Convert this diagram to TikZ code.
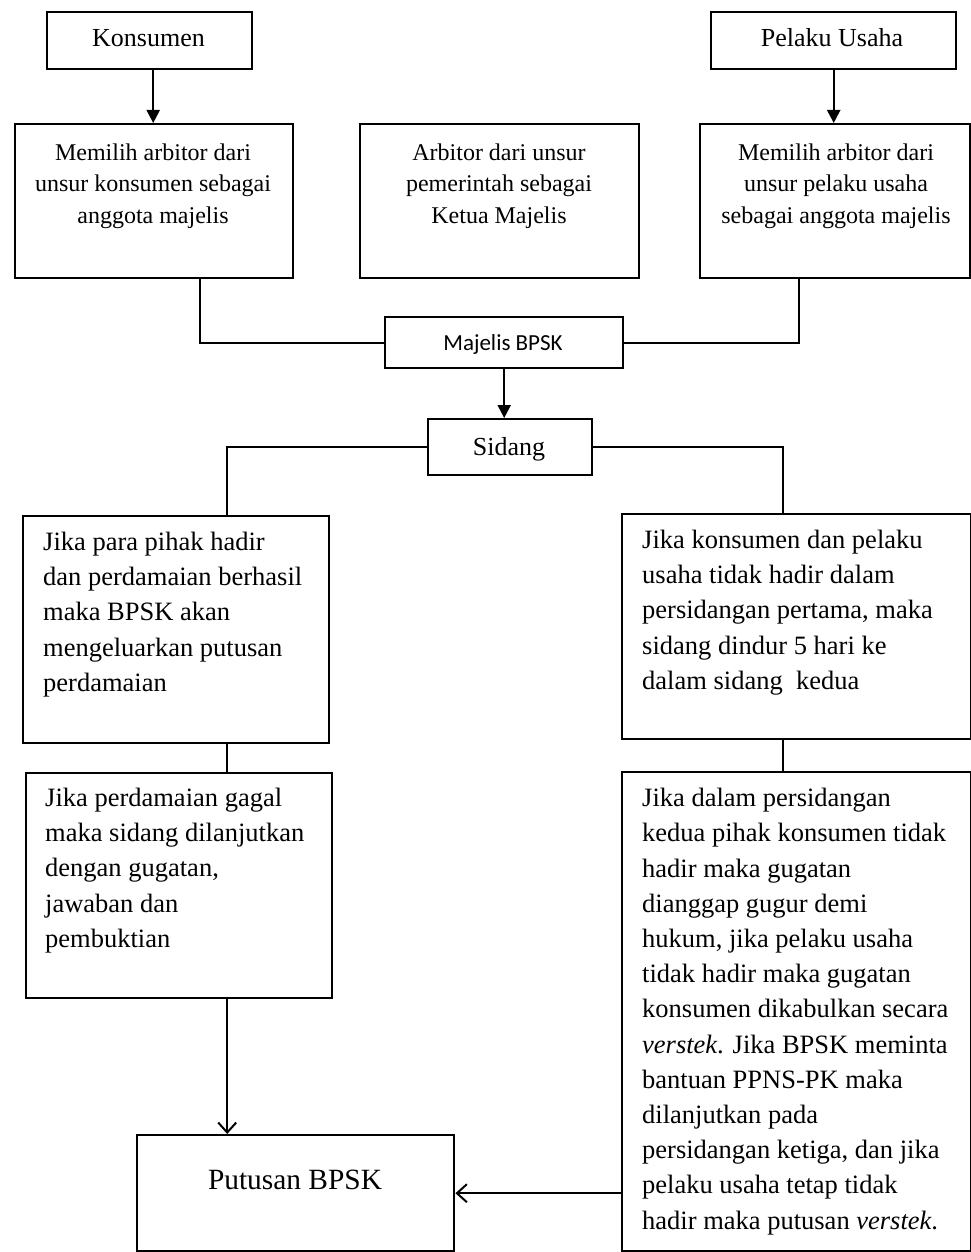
\documentclass[tikz,border=0pt]{standalone}
\usepackage{fontspec}
\setmainfont{Liberation Serif}
\newfontfamily\calibfont{Carlito}
\usetikzlibrary{arrows.meta}
\begin{document}
\begin{tikzpicture}[x=1pt,y=-1pt,
  box/.style={draw, line width=2.4pt, inner sep=0pt, anchor=north west},
  conn/.style={line width=2.2pt},
  fillarrow/.style={conn, -{Triangle[width=13pt,length=13pt]}},
  openarrow/.style={conn, -{Straight Barb[width=18pt,length=10pt,line width=2pt]}},
  toptext/.style={align=center, inner sep=0pt, font=\fontsize{24}{31.7}\selectfont},
  bodytext/.style={align=left, inner sep=0pt, anchor=north west, font=\fontsize{26.5}{35.2}\selectfont},
  lbl/.style={inner sep=0pt, anchor=base, font=\fontsize{26}{30}\selectfont}]
\useasboundingbox (0,0) rectangle (971,1252);

% boxes
\node[box, minimum width=205pt, minimum height=57pt] (kons) at (46,11) {};
\node[box, minimum width=245pt, minimum height=57pt] (pel) at (710,11) {};
\node[box, minimum width=278pt, minimum height=154pt] (mk) at (14,123) {};
\node[box, minimum width=279pt, minimum height=154pt] (arb) at (359,123) {};
\node[box, minimum width=270pt, minimum height=154pt] (mp) at (699,123) {};
\node[box, minimum width=238pt, minimum height=51pt] (maj) at (384,316) {};
\node[box, minimum width=164pt, minimum height=56pt] (sid) at (427,418) {};
\node[box, minimum width=306pt, minimum height=227pt] (l1) at (22,515) {};
\node[box, minimum width=306pt, minimum height=225pt] (l2) at (25,772) {};
\node[box, minimum width=349pt, minimum height=225pt] (r1) at (621,513) {};
\node[box, minimum width=349pt, minimum height=479pt] (r2) at (621,771) {};
\node[box, minimum width=317pt, minimum height=116pt] (put) at (136,1134) {};

% texts
\node[lbl] (tkons) at (148.5,46.5) {Konsumen};
\node[lbl] (tpel) at (832,46.5) {Pelaku Usaha};
\node[toptext] (tmk) at (153,186) {Memilih arbitor dari\\unsur konsumen sebagai\\anggota majelis};
\node[toptext] (tarb) at (499,186) {Arbitor dari unsur\\pemerintah sebagai\\Ketua Majelis};
\node[toptext] (tmp) at (836,186) {Memilih arbitor dari\\unsur pelaku usaha\\sebagai anggota majelis};
\node[lbl, font=\calibfont\fontsize{23}{27}\selectfont] (tmaj) at (503,350) {Majelis BPSK};
\node[lbl] (tsid) at (509,455) {Sidang};
\node[bodytext] (tl1) at (43,532) {Jika para pihak hadir\\dan perdamaian berhasil\\maka BPSK akan\\mengeluarkan putusan\\perdamaian};
\node[bodytext] (tl2) at (45,788) {Jika perdamaian gagal\\maka sidang dilanjutkan\\dengan gugatan,\\jawaban dan\\pembuktian};
\node[bodytext] (tr1) at (642,530) {Jika konsumen dan pelaku\\usaha tidak hadir dalam\\persidangan pertama, maka\\sidang dindur 5 hari ke\\dalam sidang~ kedua};
\node[bodytext] (tr2) at (642,788) {Jika dalam persidangan\\kedua pihak konsumen tidak\\hadir maka gugatan\\dianggap gugur demi\\hukum, jika pelaku usaha\\tidak hadir maka gugatan\\konsumen dikabulkan secara\\\textit{verstek}. Jika BPSK meminta\\bantuan PPNS-PK maka\\dilanjutkan pada\\persidangan ketiga, dan jika\\pelaku usaha tetap tidak\\hadir maka putusan \textit{verstek}.};
\node[lbl, font=\fontsize{29.4}{34}\selectfont] (tput) at (295,1189) {Putusan BPSK};

% connectors
\draw[fillarrow] ([xshift=3.5pt]kons.south) -- ([xshift=3.5pt]kons.south |- mk.north);
\draw[fillarrow] (pel.south) -- (pel.south |- mp.north);
\draw[conn] ([xshift=46pt]mk.south) |- (maj.west);
\draw[conn] ([xshift=-36pt]mp.south) |- (maj.east);
\draw[fillarrow] (maj.south) -- (maj.south |- sid.north);
\draw[conn] (sid.west) -| ([xshift=51pt]l1.north);
\draw[conn] (sid.east) -| ([xshift=-13.5pt]r1.north);
\draw[conn] ([xshift=51pt]l1.south) -- ([xshift=51pt]l1.south |- l2.north);
\draw[conn] ([xshift=-13.5pt]r1.south) -- ([xshift=-13.5pt]r1.south |- r2.north);
\draw[openarrow] ([xshift=48pt]l2.south) -- ([xshift=48pt]l2.south |- put.north);
\draw[openarrow] (put.east -| r2.west) -- (put.east);
\end{tikzpicture}
\end{document}
